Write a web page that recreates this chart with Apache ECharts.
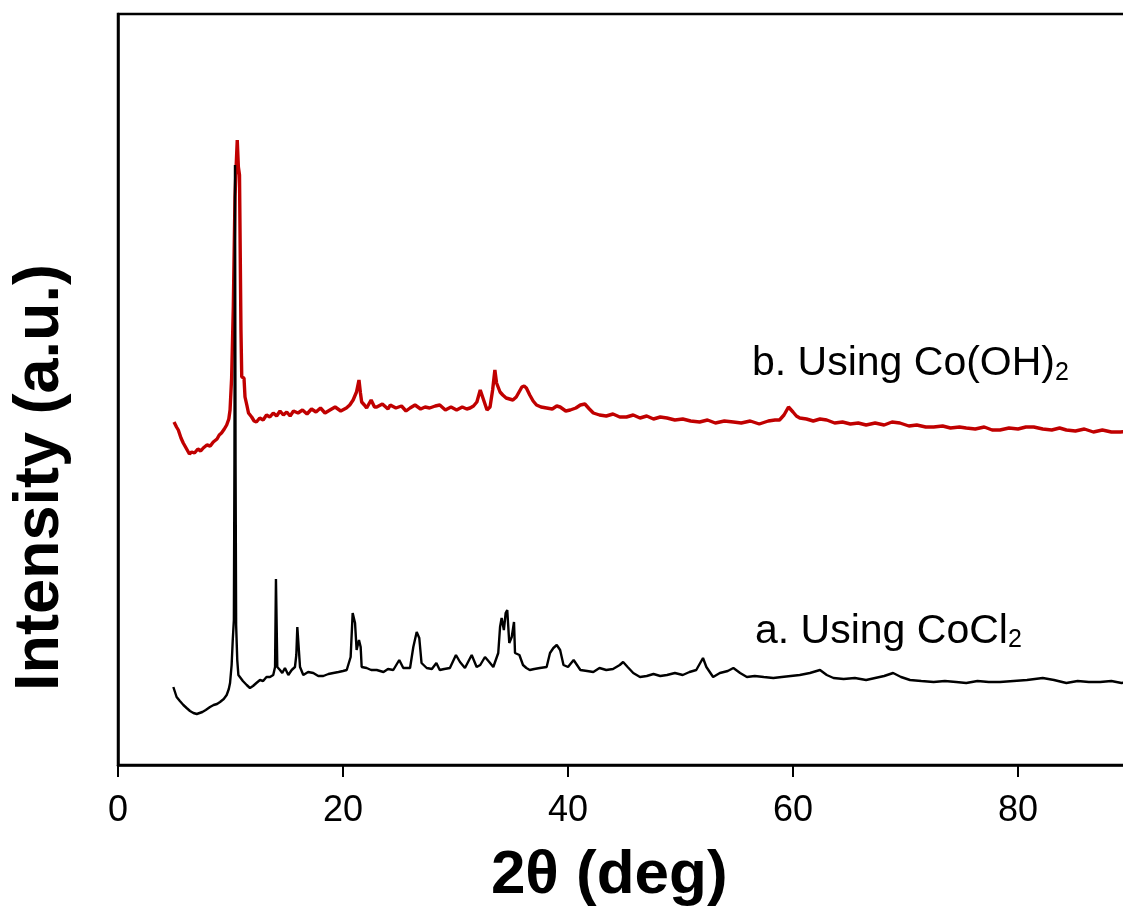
<!DOCTYPE html>
<html>
<head>
<meta charset="utf-8">
<script src="https://cdn.jsdelivr.net/npm/echarts@6/dist/echarts.min.js"></script>
<style>
html,body{margin:0;padding:0;background:#fff;}
#chart{width:1123px;height:914px;}
</style>
</head>
<body>
<div id="chart"></div>
<script>
// x-axis ticks (2θ, deg)
const xTicks = [0, 20, 40, 60, 80];

// Series b: Using Co(OH)2 (red), intensity in arbitrary units
const bX = [4.98,5.2,5.36,5.6,5.8,6.1,6.35,6.55,6.8,7.1,7.35,7.58,7.9,8.2,8.47,8.8,9.0,9.2,9.45,9.66,9.85,9.96,10.1,10.25,10.4,10.49,10.6,10.7,10.8,10.93,11.0,11.2,11.29,11.45,11.6,11.88,12.1,12.3,12.6,12.9,13.2,13.5,13.8,14.1,14.4,14.7,15.0,15.3,15.6,16.0,16.4,16.8,17.2,17.6,18.0,18.4,18.84,19.3,19.8,20.3,20.6,20.9,21.2,21.42,21.55,21.66,21.9,22.1,22.5,22.8,23.0,23.5,24.0,24.2,24.7,25.2,25.6,25.96,26.4,26.9,27.3,27.7,28.2,28.6,29.1,29.6,30.1,30.6,31.0,31.3,31.6,31.9,32.2,32.5,32.8,33.07,33.3,33.5,33.65,33.96,34.2,34.5,34.8,35.1,35.4,35.6,35.9,36.1,36.3,36.6,36.9,37.2,37.6,38.1,38.6,39.0,39.3,39.8,40.2,40.7,41.1,41.5,41.9,42.25,42.8,43.4,44.0,44.6,45.2,45.8,46.4,47.0,47.6,48.2,48.8,49.5,50.2,50.9,51.7,52.4,53.1,53.9,54.7,55.4,56.2,57.0,57.8,58.4,58.8,59.2,59.6,60.0,60.3,60.6,61.2,61.8,62.4,63.0,63.7,64.4,65.1,65.8,66.5,67.3,68.1,68.8,69.5,70.3,71.0,71.8,72.5,73.3,74.0,74.8,75.4,76.2,77.0,77.7,78.4,79.2,80.0,80.7,81.4,82.2,83.0,83.7,84.3,85.1,85.9,86.7,87.5,88.3,89.1,89.8];
const bI = [343,338,335,327,322,316,311,313,312,316,314,317,320,319,323,326,330,332,336,340,346,355,387,458,568,595,625,598,590,435,388,387,368,360,352,348,344,343,347,345,350,348,352,349,354,350,353,349,354,352,355,351,356,353,357,352,355,358,354,357,360,365,373,385,372,363,360,357,365,358,358,361,356,360,357,359,354,357,360,356,358,357,359,360,355,358,355,358,356,357,359,363,375,365,355,358,375,395,382,373,370,367,366,365,368,372,378,379,377,370,364,360,358,357,356,359,358,354,355,357,360,361,356,352,350,349,351,348,348,350,347,349,346,348,347,345,346,344,343,345,342,344,343,342,344,341,344,345,345,350,358,353,349,347,346,344,346,345,342,343,341,342,340,342,340,343,342,339,340,338,338,339,337,338,337,336,338,335,335,337,336,338,338,336,335,337,335,334,336,333,335,333,333,334];

// Series a: Using CoCl2 (black), intensity in arbitrary units
const aX = [4.92,5.21,5.5,5.81,6.1,6.4,6.7,7.0,7.14,7.5,7.8,8.18,8.5,8.8,9.07,9.4,9.66,9.85,9.96,10.1,10.2,10.3,10.35,10.4,10.45,10.5,10.6,10.7,10.84,11.1,11.44,11.73,12.0,12.3,12.62,12.9,13.2,13.51,13.8,13.96,14.04,14.1,14.16,14.4,14.6,14.84,15.14,15.44,15.73,15.85,15.94,16.1,16.18,16.47,16.9,17.36,17.8,18.25,18.7,19.14,19.6,20.0,20.33,20.68,20.86,20.95,21.07,21.21,21.42,21.57,21.66,22.1,22.5,23.0,23.6,24.0,24.47,25.0,25.36,25.96,26.25,26.55,26.78,26.98,27.44,27.9,28.3,28.6,29.0,29.5,30.04,30.4,30.84,31.44,31.88,32.2,32.62,33.0,33.36,33.8,33.96,34.1,34.3,34.46,34.6,34.78,35.0,35.2,35.29,35.68,36.0,36.3,36.6,37.0,37.5,38.1,38.4,38.7,39.0,39.3,39.6,40.0,40.5,41.1,41.7,42.25,42.8,43.4,44.0,44.6,44.9,45.3,45.8,46.4,47.0,47.6,48.2,48.8,49.5,50.2,50.8,51.4,52.0,52.3,52.9,53.5,54.2,54.7,55.3,55.9,56.6,57.4,58.25,59.0,59.8,60.6,61.5,62.4,63.0,63.6,64.5,65.5,66.5,67.3,68.1,68.9,69.6,70.4,71.4,72.5,73.5,74.5,75.4,76.4,77.4,78.4,79.6,80.8,81.5,82.2,83.2,84.3,85.3,86.3,87.3,88.3,89.2,89.8];
const aI = [78,68,64,60,57,54,52,51,51,53,55,58,60,61,63,66,70,76,82,100,125,145,300,600,300,140,105,90,88,84,80,77,79,82,85,84,88,88,90,98,186,186,98,95,92,97,90,95,98,110,138,137,98,90,93,92,89,89,91,92,93,94,95,108,152,150,142,115,125,118,98,97,95,95,93,96,95,105,97,97,118,133,127,102,97,96,102,95,96,97,110,103,97,110,98,100,108,103,98,112,138,147,135,152,155,122,128,143,112,110,100,97,95,96,97,98,112,117,120,115,100,98,105,95,94,93,97,95,96,100,103,98,92,88,89,91,89,90,92,90,93,95,107,98,88,92,94,97,92,88,89,88,87,88,89,90,92,95,90,87,86,87,85,87,89,92,88,85,84,83,84,83,82,84,83,83,84,85,86,87,85,82,84,83,83,84,82,83];

const seriesNames = ['b. Using Co(OH)2', 'a. Using CoCl2'];

const FONT = 'Arial, "Liberation Sans", Helvetica, sans-serif';
const chart = echarts.init(document.getElementById('chart'), null, {renderer: 'canvas'});

const pairs = (xs, ys) => xs.map((x, i) => [x, ys[i]]);

chart.setOption({
  animation: false,
  backgroundColor: '#ffffff',
  grid: {
    left: 118, top: 14, bottom: 149, width: 1012.5,
    outerBoundsMode: 'none', containLabel: false,
    show: true, borderColor: '#000', borderWidth: 2.5, backgroundColor: 'transparent'
  },
  xAxis: {
    type: 'value', min: 0, max: 90, interval: 20,
    name: '2θ (deg)', nameLocation: 'middle', nameGap: 80,
    nameTextStyle: {fontFamily: FONT, fontSize: 62, fontWeight: 'bold', color: '#000', padding: [0, 30, 0, 0]},
    axisLine: {show: true, onZero: false, lineStyle: {color: '#000', width: 2.5}},
    axisTick: {show: true, inside: false, length: 12, lineStyle: {color: '#000', width: 2}},
    axisLabel: {show: true, margin: 28, fontFamily: FONT, fontSize: 36, color: '#000',
      formatter: v => xTicks.includes(v) ? String(v) : ''},
    splitLine: {show: false}
  },
  yAxis: {
    type: 'value', min: 0, max: 751,
    name: 'Intensity (a.u.)', nameLocation: 'middle', nameGap: 46,
    nameTextStyle: {fontFamily: FONT, fontSize: 63, fontWeight: 'bold', color: '#000', padding: [0, 176, 0, 0]},
    axisLine: {show: true, onZero: false, lineStyle: {color: '#000', width: 2.5}},
    axisTick: {show: false},
    axisLabel: {show: false},
    splitLine: {show: false}
  },
  series: [
    {
      name: seriesNames[0], type: 'line', data: pairs(bX, bI),
      showSymbol: false, symbol: 'none', lineStyle: {color: '#C00000', width: 3.4},
      clip: true, z: 2
    },
    {
      name: seriesNames[1], type: 'line', data: pairs(aX, aI),
      showSymbol: false, symbol: 'none', lineStyle: {color: '#000000', width: 2.4},
      clip: true, z: 3
    }
  ],
  graphic: [
    {
      type: 'text', left: 752, top: 343, z: 10,
      style: {
        text: '{m|b. Using Co(OH)}{s|2}',
        rich: {
          m: {fontFamily: FONT, fontSize: 41, fill: '#000', color: '#000'},
          s: {fontFamily: FONT, fontSize: 25, fill: '#000', color: '#000', padding: [20, 0, 0, 0]}
        }
      }
    },
    {
      type: 'text', left: 755, top: 611, z: 10,
      style: {
        text: '{m|a. Using CoCl}{s|2}',
        rich: {
          m: {fontFamily: FONT, fontSize: 41, fill: '#000', color: '#000'},
          s: {fontFamily: FONT, fontSize: 25, fill: '#000', color: '#000', padding: [18, 0, 0, 0]}
        }
      }
    }
  ]
});
</script>
</body>
</html>
